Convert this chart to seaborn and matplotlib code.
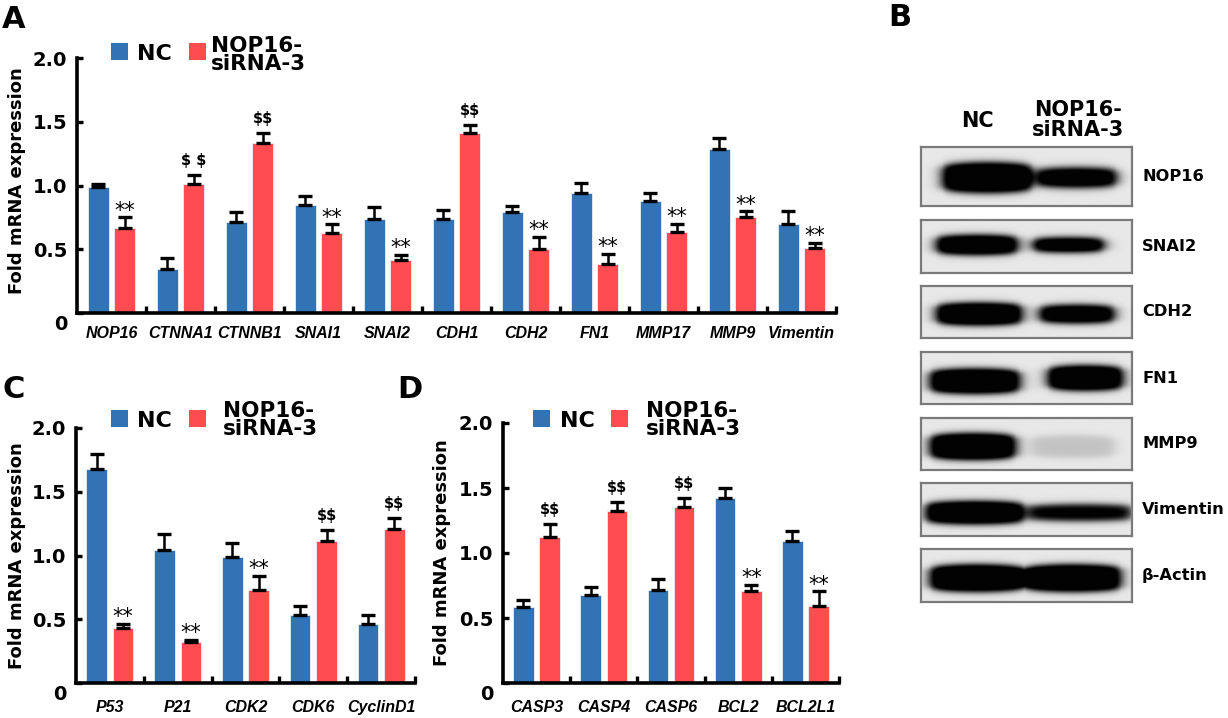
import numpy as np
import pandas as pd
import matplotlib
matplotlib.use("Agg")
import matplotlib.pyplot as plt
import matplotlib.transforms as mtransforms
from matplotlib.patches import Rectangle
import seaborn as sns

plt.rcParams["text.parse_math"] = False

# ---------------- data ----------------
groups = ["NC", "NOP16-siRNA-3"]

genes_A = ["NOP16", "CTNNA1", "CTNNB1", "SNAI1", "SNAI2", "CDH1", "CDH2", "FN1", "MMP17", "MMP9", "Vimentin"]
nc_A = [0.99, 0.345, 0.71, 0.845, 0.735, 0.735, 0.79, 0.94, 0.875, 1.29, 0.70]
nc_err_A = [0.025, 0.085, 0.085, 0.07, 0.095, 0.07, 0.047, 0.078, 0.063, 0.085, 0.10]
si_A = [0.665, 1.015, 1.33, 0.625, 0.415, 1.415, 0.50, 0.385, 0.635, 0.75, 0.51]
si_err_A = [0.085, 0.07, 0.085, 0.07, 0.04, 0.063, 0.10, 0.078, 0.063, 0.047, 0.04]
marks_A = ["**", "$ $", "$$", "**", "**", "$$", "**", "**", "**", "**", "**"]

genes_C = ["P53", "P21", "CDK2", "CDK6", "CyclinD1"]
nc_C = [1.675, 1.04, 0.985, 0.537, 0.466]
nc_err_C = [0.12, 0.13, 0.11, 0.07, 0.07]
si_C = [0.435, 0.325, 0.733, 1.11, 1.21]
si_err_C = [0.03, 0.015, 0.11, 0.09, 0.085]
marks_C = ["**", "**", "**", "$$", "$$"]

genes_D = ["CASP3", "CASP4", "CASP6", "BCL2", "BCL2L1"]
nc_D = [0.582, 0.674, 0.713, 1.423, 1.092]
nc_err_D = [0.054, 0.067, 0.085, 0.08, 0.077]
si_D = [1.12, 1.326, 1.356, 0.705, 0.595]
si_err_D = [0.105, 0.067, 0.07, 0.05, 0.11]
marks_D = ["$$", "$$", "$$", "**", "**"]

yticks = [0, 0.5, 1.0, 1.5, 2.0]
ytick_labels = ["0", "0.5", "1.0", "1.5", "2.0"]

proteins_B = ["NOP16", "SNAI2", "CDH2", "FN1", "MMP9", "Vimentin", "β-Actin"]
band_nc_B = [1.0, 1.0, 1.0, 1.0, 1.0, 1.0, 1.0]
band_si_B = [0.95, 1.0, 0.95, 1.0, 0.12, 0.8, 1.0]

# ---------------- style ----------------
BLUE = "#3173B5"
RED = "#FF4C50"
W, H = 1228, 718
DPI = 100

fig = plt.figure(figsize=(W / DPI, H / DPI), dpi=DPI)


def rect(l, r, t, b):
    return [l / W, 1 - b / H, (r - l) / W, (b - t) / H]


def ftext(x, y, s, **kw):
    fig.text(x / W, 1 - y / H, s, **kw)


def fsquare(x0, x1, y0, y1, color):
    fig.add_artist(Rectangle((x0 / W, 1 - y1 / H), (x1 - x0) / W, (y1 - y0) / H,
                             transform=fig.transFigure, color=color, lw=0))


def bar_panel(ax, genes, nc, nc_err, si, si_err, marks, xpad, ylab_x, ylab_y=0.5):
    n = len(genes)
    df = pd.DataFrame({
        "gene": genes * 2,
        "group": [groups[0]] * n + [groups[1]] * n,
        "value": list(nc) + list(si),
    })
    sns.barplot(data=df, x="gene", y="value", hue="group", hue_order=groups,
                palette=[BLUE, RED], width=0.78, gap=0.22, errorbar=None,
                legend=False, saturation=1, ax=ax, edgecolor="#e8eef8", linewidth=0.6)
    for cont, vals, errs in zip(ax.containers, [nc, si], [nc_err, si_err]):
        xs = [p.get_x() + p.get_width() / 2 for p in cont]
        ax.errorbar(xs, vals, yerr=[np.zeros(n), errs], fmt="none", ecolor="black",
                    elinewidth=1.8, capsize=4.7, capthick=2.4, zorder=3)
    si_xs = [p.get_x() + p.get_width() / 2 for p in ax.containers[1]]
    for x, v, e, m in zip(si_xs, si, si_err, marks):
        if "*" in m:
            ax.annotate(m, (x, v + e), xytext=(0, 0.5), textcoords="offset points",
                        ha="center", va="baseline", fontsize=15)
        else:
            ax.annotate(m, (x, v + e), xytext=(0, 7), textcoords="offset points",
                        ha="center", va="baseline", fontsize=10.5, fontweight="bold")
    ax.set_ylim(0, 2.0)
    ax.set_xlim(-0.5, n - 0.5)
    ax.set_yticks(yticks)
    ax.set_yticklabels(ytick_labels, fontsize=14, fontweight="bold")
    ax.tick_params(axis="y", direction="in", length=4, width=2.4, pad=7)
    ax.set_xticks(range(n))
    ax.set_xticklabels(genes, fontsize=11.5, fontweight="bold", fontstyle="italic",
                       family="Liberation Sans")
    ax.tick_params(axis="x", which="major", length=0, pad=xpad)
    ax.set_xticks(np.arange(0.5, n, 1.0), minor=True)
    ax.tick_params(axis="x", which="minor", direction="in", length=5, width=2.4)
    sns.despine(ax=ax)
    for s in ("left", "bottom"):
        ax.spines[s].set_linewidth(2.6)
    ax.set_xlabel("")
    ax.set_ylabel("Fold mRNA expression", fontsize=13, fontweight="bold")
    ax.yaxis.set_label_coords(ylab_x, ylab_y)
    # the "0" label sits a little below the axis line
    lab0 = ax.get_yticklabels()[0]
    lab0.set_transform(lab0.get_transform() +
                       mtransforms.ScaledTranslation(0, -9 / DPI, fig.dpi_scale_trans))


# ---------------- panels A, C, D ----------------
axA = fig.add_axes(rect(77, 836, 58, 313))
bar_panel(axA, genes_A, nc_A, nc_err_A, si_A, si_err_A, marks_A, xpad=9,
          ylab_x=(26 - 77) / (836 - 77), ylab_y=0.52)

axC = fig.add_axes(rect(76, 415, 428, 683))
bar_panel(axC, genes_C, nc_C, nc_err_C, si_C, si_err_C, marks_C, xpad=12,
          ylab_x=(26 - 76) / (415 - 76))

axD = fig.add_axes(rect(503, 839, 423, 683))
bar_panel(axD, genes_D, nc_D, nc_err_D, si_D, si_err_D, marks_D, xpad=12,
          ylab_x=(451 - 503) / (839 - 503))

# legends
for bx, by, nx, sx, l1, l2 in [(111, 43, 137, 211, 52, 70),
                               (111, 410, 137, 223, 417, 435),
                               (533, 410, 560, 646, 417, 435)]:
    fsquare(bx, bx + 17, by, by + 17, BLUE)
    ftext(nx, by + 17, "NC", fontsize=16, fontweight="bold", va="baseline", ha="left")
    fsquare(bx + 78, bx + 95, by, by + 17, RED)
    ftext(sx, l1, "NOP16-", fontsize=15.5, fontweight="bold", va="baseline", ha="left")
    ftext(sx, l2, "siRNA-3", fontsize=15.5, fontweight="bold", va="baseline", ha="left")

# panel letters
for x, y, s in [(2, 28, "A"), (888, 26, "B"), (2, 398, "C"), (397, 398, "D")]:
    ftext(x, y, s, fontsize=22, fontweight="bold", va="baseline", ha="left")

# ---------------- panel B (western blot) ----------------
box_top = [147, 220, 286, 352, 418, 483, 549]
box_bot = [206, 273, 338, 404, 470, 536, 602]
# lane geometry: (x0, x1, y-center, half-height) as fractions of the box
geom_nc = [(0.10, 0.53, 0.52, 0.26), (0.07, 0.46, 0.47, 0.19), (0.07, 0.48, 0.54, 0.22),
           (0.04, 0.47, 0.57, 0.24), (0.04, 0.45, 0.55, 0.26), (0.02, 0.49, 0.56, 0.22),
           (0.04, 0.49, 0.55, 0.26)]
geom_si = [(0.55, 0.93, 0.52, 0.17), (0.53, 0.87, 0.47, 0.14), (0.56, 0.92, 0.54, 0.18),
           (0.60, 0.96, 0.51, 0.24), (0.52, 0.92, 0.55, 0.22), (0.51, 1.0, 0.56, 0.16),
           (0.49, 0.95, 0.55, 0.26)]

xx = np.linspace(0, 1, 320)[None, :]
yy = np.linspace(0, 1, 90)[:, None]


def lane(g, inten):
    x0, x1, yc, h = g
    t = np.clip((xx - x0) / (x1 - x0), 0, 1)
    hx = h * (0.72 + 0.28 * np.sin(np.pi * t) ** 0.5)
    px = 0.5 * (1 + np.tanh((xx - x0) / 0.035)) * 0.5 * (1 + np.tanh((x1 - xx) / 0.035))
    py = 0.5 * (1 + np.tanh((hx - np.abs(yy - yc)) / 0.07))
    return inten * px * py


bg = 0.90
for i, prot in enumerate(proteins_B):
    axb = fig.add_axes(rect(921, 1132, box_top[i], box_bot[i]))
    v = lane(geom_nc[i], band_nc_B[i]) + lane(geom_si[i], band_si_B[i])
    img = bg * (1 - np.clip(1.35 * v, 0, 1)) + 0.01
    axb.imshow(img, cmap="gray", vmin=0, vmax=1, extent=(0, 1, 0, 1), origin="upper",
               aspect="auto", interpolation="bilinear")
    axb.set_xticks([])
    axb.set_yticks([])
    for s in axb.spines.values():
        s.set_color("#7a7a7a")
        s.set_linewidth(1.6)
    yc = (box_top[i] + box_bot[i]) / 2
    ftext(1142, yc, prot, fontsize=11.7, fontweight="bold", va="center", ha="left")

ftext(977, 127, "NC", fontsize=15, fontweight="bold", va="baseline", ha="center")
ftext(1078, 116, "NOP16-", fontsize=15, fontweight="bold", va="baseline", ha="center")
ftext(1078, 136, "siRNA-3", fontsize=15, fontweight="bold", va="baseline", ha="center")

fig.savefig("out.png", dpi=DPI)
